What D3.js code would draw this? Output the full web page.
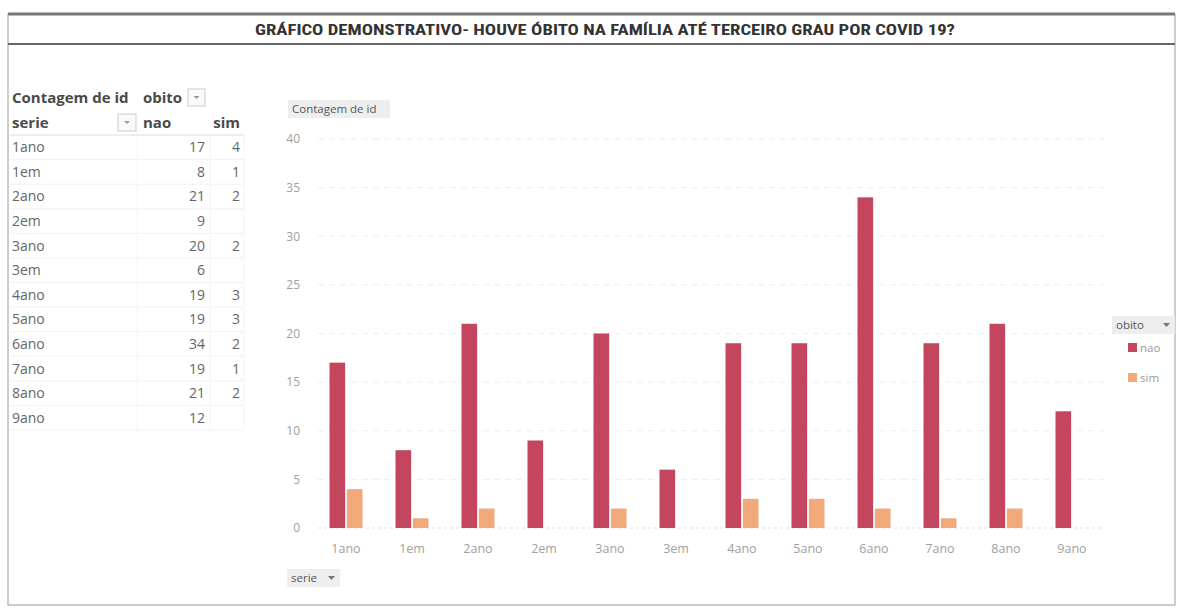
<!DOCTYPE html>
<html><head><meta charset="utf-8">
<script src="https://cdn.jsdelivr.net/npm/d3@7"></script>
<style>body{margin:0;background:#fff}svg{display:block}</style>
</head><body>
<svg id="c" width="1180" height="608"></svg>
<script>
const categories = ["1ano","1em","2ano","2em","3ano","3em","4ano","5ano","6ano","7ano","8ano","9ano"];
const naoValues = [17,8,21,9,20,6,19,19,34,19,21,12];
const simValues = [4,1,2,null,2,null,3,3,2,1,2,null];
const seriesNames = ["nao","sim"];
const yTicks = [0,5,10,15,20,25,30,35,40];
const title = "GRÁFICO DEMONSTRATIVO- HOUVE ÓBITO NA FAMÍLIA ATÉ TERCEIRO GRAU POR COVID 19?";
const colors = {nao:"#c4465e", sim:"#f2a97a"};

const svg = d3.select("#c");
const font = "'Open Sans','Liberation Sans',sans-serif";

// frame
svg.append("rect").attr("x",8).attr("y",14).attr("width",1167).attr("height",591)
  .attr("fill","none").attr("stroke","#9a9a9a").attr("stroke-width",1);
svg.append("line").attr("x1",8).attr("x2",1175).attr("y1",14).attr("y2",14).attr("stroke","#777").attr("stroke-width",3);
svg.append("line").attr("x1",8).attr("x2",1175).attr("y1",44).attr("y2",44).attr("stroke","#666").attr("stroke-width",2);
svg.append("text").attr("x",605).attr("y",35).attr("text-anchor","middle")
  .attr("font-family","'Liberation Sans Narrow','Roboto Condensed','Open Sans',sans-serif")
  .attr("font-weight","bold").attr("font-size",14).attr("fill","#333")
  .attr("textLength",700).attr("lengthAdjust","spacingAndGlyphs").text(title);

// pivot table
const tf = "'Open Sans','Liberation Sans',sans-serif";
const tg = svg.append("g").attr("font-family",tf).attr("font-size",14).attr("fill","#666");
const rowY = d3.scaleBand().domain(categories).range([135,430]);
const colLine = [137,210,244];
categories.forEach((c,i)=>{
  const y = rowY(c)+rowY.bandwidth()/2;
  tg.append("line").attr("x1",10).attr("x2",244).attr("y1",rowY(c)+rowY.bandwidth()).attr("y2",rowY(c)+rowY.bandwidth())
    .attr("stroke","#f2f2f2");
  tg.append("text").attr("x",12).attr("y",y+5).text(c);
  tg.append("text").attr("x",205).attr("y",y+5).attr("text-anchor","end").text(naoValues[i]);
  if(simValues[i]!=null) tg.append("text").attr("x",240).attr("y",y+5).attr("text-anchor","end").text(simValues[i]);
});
colLine.forEach(x=>tg.append("line").attr("x1",x).attr("x2",x).attr("y1",135).attr("y2",430).attr("stroke","#f4f4f4"));
tg.append("line").attr("x1",10).attr("x2",244).attr("y1",135).attr("y2",135).attr("stroke","#ddd");
const hb = tg.append("g").attr("font-weight","bold").attr("fill","#4a4a4a").attr("font-size",15);
hb.append("text").attr("x",12).attr("y",103).text("Contagem de id");
hb.append("text").attr("x",143).attr("y",103).text("obito");
hb.append("text").attr("x",12).attr("y",128).text("serie");
hb.append("text").attr("x",143).attr("y",128).text("nao");
hb.append("text").attr("x",240).attr("y",128).attr("text-anchor","end").text("sim");
function dropdown(g,x,y,w,h){
  g.append("rect").attr("x",x).attr("y",y).attr("width",w).attr("height",h).attr("fill","#fafafa").attr("stroke","#ccc");
  g.append("path").attr("d",`M${x+w/2-3},${y+h/2-1.5}L${x+w/2+3},${y+h/2-1.5}L${x+w/2},${y+h/2+1.5}Z`).attr("fill","#999");
}
dropdown(tg,188,89,17,17);
dropdown(tg,118,114,18,17);

// chart
const x0 = d3.scaleBand().domain(categories).range([313,1105]).paddingInner(0.5).paddingOuter(0.25);
const x1 = d3.scaleBand().domain(seriesNames).range([0,x0.bandwidth()]).paddingInner(0.1);
const y = d3.scaleLinear().domain([0,40]).range([528,139]);

const grid = svg.append("g");
yTicks.forEach(t=>{
  grid.append("line").attr("x1",318).attr("x2",1105).attr("y1",y(t)).attr("y2",y(t))
    .attr("stroke", t===0?"#e2e2e2":"#eeeeee").attr("stroke-dasharray", t===0?"3,3":"6,5");
});
const yAxis = d3.axisLeft(y).tickValues(yTicks).tickSize(0).tickPadding(0);
const ya = svg.append("g").attr("transform","translate(300,0)").call(yAxis);
ya.select(".domain").remove();
ya.selectAll("text").attr("font-family",font).attr("font-size",12).attr("fill","#a0a0a0");

const xAxis = d3.axisBottom(x0).tickSize(0).tickPadding(0);
const xa = svg.append("g").attr("transform","translate(0,544)").call(xAxis);
xa.select(".domain").remove();
xa.selectAll("text").attr("font-family",font).attr("font-size",12.5).attr("fill","#a0a0a0");

const groups = svg.append("g").selectAll("g").data(categories).join("g")
  .attr("transform",c=>`translate(${x0(c)},0)`);
groups.each(function(c,i){
  const g = d3.select(this);
  const vals = {nao:naoValues[i], sim:simValues[i]};
  seriesNames.forEach(s=>{
    if(vals[s]==null) return;
    g.append("rect").attr("x",x1(s)).attr("y",y(vals[s])).attr("width",x1.bandwidth())
      .attr("height",y(0)-y(vals[s])).attr("fill",colors[s]);
  });
});

// field buttons
function fieldBtn(x,yy,w,label,arrow){
  const g = svg.append("g");
  g.append("rect").attr("x",x).attr("y",yy).attr("width",w).attr("height",18).attr("fill","#eee").attr("rx",1);
  g.append("text").attr("x",x+4).attr("y",yy+13).attr("font-family",font).attr("font-size",11.5)
    .attr("fill","#555").text(label);
  if(arrow) g.append("path").attr("d",`M${x+w-12},${yy+7}L${x+w-5},${yy+7}L${x+w-8.5},${yy+11}Z`).attr("fill","#777");
}
fieldBtn(288,100,102,"Contagem de id",false);
fieldBtn(287,569,53,"serie",true);
fieldBtn(1112,316,63,"obito",true);

// legend
seriesNames.forEach((s,i)=>{
  const ly = 348 + i*30;
  svg.append("rect").attr("x",1128).attr("y",ly-5).attr("width",9).attr("height",9).attr("fill",colors[s]);
  svg.append("text").attr("x",1140).attr("y",ly+4).attr("font-family",font).attr("font-size",11.5)
    .attr("fill","#999").text(s);
});
</script>
</body></html>
